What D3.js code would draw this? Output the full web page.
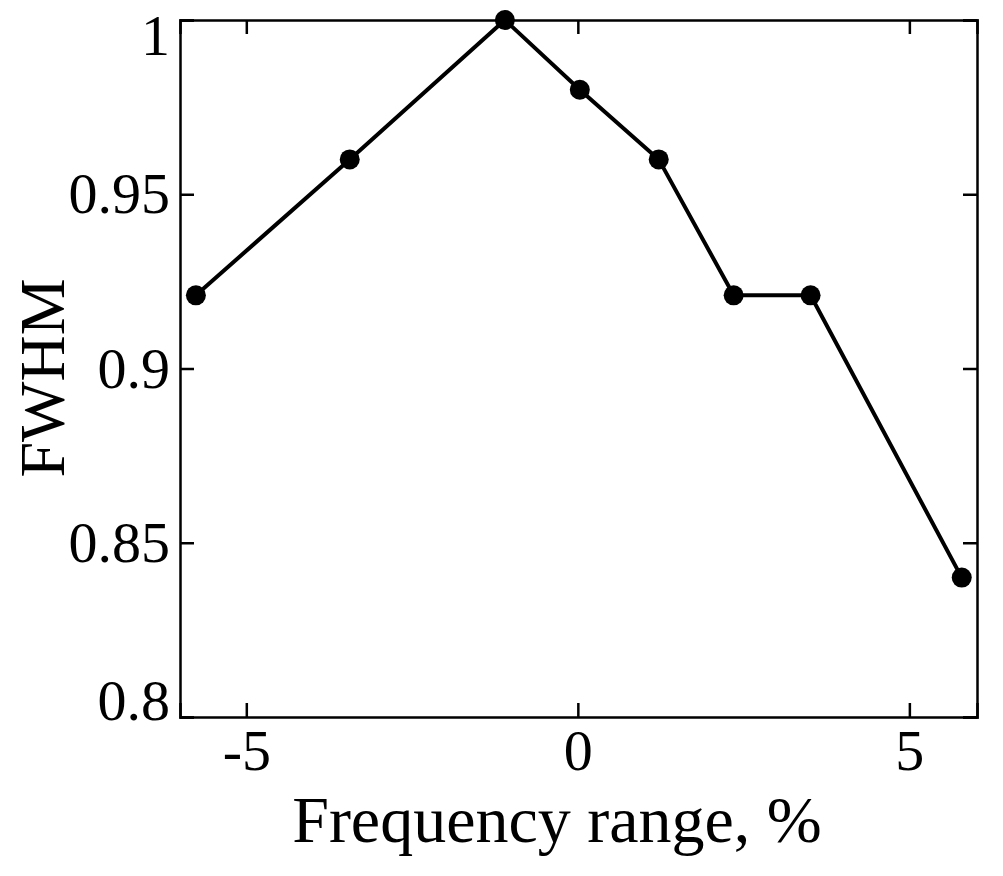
<!DOCTYPE html>
<html>
<head>
<meta charset="utf-8">
<script src="https://cdn.jsdelivr.net/npm/d3@7"></script>
<style>
  body { margin: 0; background: #fff; }
  text { font-family: "Liberation Serif", "DejaVu Serif", serif; }
</style>
</head>
<body>
<div class="chart"></div>
<script>
const freq = [-5.76, -3.44, -1.1, 0.03, 1.22, 2.35, 3.51, 5.79];
const fwhm = [0.921, 0.96, 1.0, 0.98, 0.96, 0.921, 0.921, 0.84];
const xTicks = [-5, 0, 5];
const yTicks = [0.8, 0.85, 0.9, 0.95, 1];

const data = freq.map((f, i) => ({ x: f, y: fwhm[i] }));

const margin = { top: 20, left: 180, right: 26, bottom: 159 };
const totalWidth = 1003, totalHeight = 876;
const width = totalWidth - margin.left - margin.right,
  height = totalHeight - margin.top - margin.bottom;

const svg = d3.select(".chart").append("svg")
  .attr("width", totalWidth).attr("height", totalHeight);

const g = svg.append("g").attr("transform", `translate(${margin.left},${margin.top})`);

const xScale = d3.scaleLinear().domain([-6, 6.02]).range([0, width]);
const yScale = d3.scaleLinear().domain([0.8, 1.0]).range([height, 0]);

// axes with inward ticks on all four sides
const tk = 14;
g.append("g").attr("transform", `translate(0,${height})`)
  .call(d3.axisBottom(xScale).tickValues(xTicks).tickSize(-tk).tickPadding(12).tickFormat(d => String(d)));
g.append("g")
  .call(d3.axisTop(xScale).tickValues(xTicks).tickSize(-tk).tickFormat(""));
g.append("g")
  .call(d3.axisLeft(yScale).tickValues(yTicks).tickSize(-tk).tickPadding(10).tickFormat(d => d));
g.append("g").attr("transform", `translate(${width},0)`)
  .call(d3.axisRight(yScale).tickValues(yTicks).tickSize(-tk).tickFormat(""));

g.selectAll(".domain").attr("stroke", "#000").attr("stroke-width", 2.5);
g.selectAll(".tick line").attr("stroke", "#000").attr("stroke-width", 2.5);
g.selectAll(".tick text")
  .attr("font-size", 58).attr("fill", "#000")
  .attr("font-family", "Liberation Serif, serif");
g.selectAll(".tick text").filter(d => d === 0.8).attr("dy", "0.05em");
g.selectAll(".tick text").filter(d => d === 1).attr("dy", "0.6em");

const line = d3.line().x(d => xScale(d.x)).y(d => yScale(d.y));
g.append("path").datum(data)
  .attr("fill", "none").attr("stroke", "#000").attr("stroke-width", 4)
  .attr("d", line);

g.selectAll("circle").data(data).enter().append("circle")
  .attr("cx", d => xScale(d.x)).attr("cy", d => yScale(d.y))
  .attr("r", 10).attr("fill", "#000");

svg.append("text")
  .attr("x", 557).attr("y", 842)
  .attr("text-anchor", "middle").attr("font-size", 66)
  .text("Frequency range, %");

svg.append("text")
  .attr("transform", `translate(64,378) rotate(-90)`)
  .attr("text-anchor", "middle").attr("font-size", 64)
  .text("FWHM");
</script>
</body>
</html>
